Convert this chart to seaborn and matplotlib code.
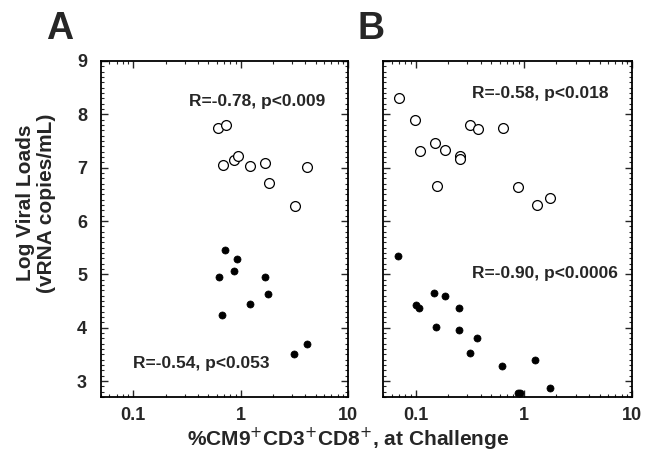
"""
Viral load vs %CM9+ CD8+ T cells at challenge - two panel scatter
"""

import numpy as np
import pandas as pd
import matplotlib
matplotlib.use('Agg')
import matplotlib.pyplot as plt
import seaborn as sns
from matplotlib.ticker import MultipleLocator, LogLocator, NullFormatter, FixedLocator, FixedFormatter

sns.set_theme(style='ticks')
plt.rcParams['font.family'] = ['Liberation Sans', 'DejaVu Sans']

# panel A
a_open_x = [0.62, 0.735, 0.68, 0.87, 0.94, 1.23, 1.70, 1.83, 3.2, 4.17]
a_open_y = [7.75, 7.80, 7.05, 7.14, 7.21, 7.03, 7.08, 6.71, 6.28, 7.02]
a_closed_x = [0.71, 0.93, 0.63, 0.87, 1.69, 1.80, 1.22, 0.67, 3.15, 4.14]
a_closed_y = [5.45, 5.29, 4.96, 5.07, 4.96, 4.64, 4.45, 4.23, 3.50, 3.69]

# panel B
b_open_x = [0.070, 0.099, 0.109, 0.150, 0.188, 0.258, 0.258, 0.318, 0.375, 0.645, 0.157, 0.89, 1.31, 1.73]
b_open_y = [8.30, 7.90, 7.32, 7.47, 7.33, 7.22, 7.17, 7.80, 7.72, 7.75, 6.66, 6.63, 6.30, 6.44]
b_closed_x = [0.069, 0.10, 0.108, 0.147, 0.185, 0.252, 0.155, 0.252, 0.367, 0.318, 0.632, 1.28, 1.73, 0.875, 0.92]
b_closed_y = [5.34, 4.43, 4.37, 4.65, 4.59, 4.37, 4.02, 3.95, 3.81, 3.53, 3.28, 3.40, 2.88, 2.78, 2.77]

a_open_label = 'R=-0.78, p<0.009'
a_closed_label = 'R=-0.54, p<0.053'
b_open_label = 'R=-0.58, p<0.018'
b_closed_label = 'R=-0.90, p<0.0006'

x_ticks = [0.1, 1, 10]
x_tick_labels = ['0.1', '1', '10']
y_ticks = [3, 4, 5, 6, 7, 8, 9]

fig = plt.figure(figsize=(6.47, 4.65), dpi=100)
ax_a = fig.add_axes([0.156, 0.146, 0.382, 0.723])
ax_b = fig.add_axes([0.592, 0.146, 0.385, 0.723])


def draw_panel(ax, ox, oy, cx, cy):
    d_open = pd.DataFrame({'x': ox, 'y': oy})
    d_closed = pd.DataFrame({'x': cx, 'y': cy})
    sns.scatterplot(data=d_open, x='x', y='y', ax=ax, marker='o', s=50,
                    facecolor='white', edgecolor='black', linewidth=0.9, zorder=3)
    sns.scatterplot(data=d_closed, x='x', y='y', ax=ax, marker='o', s=26,
                    color='black', edgecolor='black', linewidth=0.5, zorder=3)
    ax.set_xscale('log')
    ax.set_xlim(0.05, 10)
    ax.set_ylim(2.7, 9)
    ax.set_xlabel('')
    ax.set_ylabel('')
    ax.xaxis.set_major_locator(FixedLocator(x_ticks))
    ax.xaxis.set_major_formatter(FixedFormatter(x_tick_labels))
    ax.xaxis.set_minor_locator(LogLocator(base=10, subs=np.arange(2, 10), numticks=10))
    ax.xaxis.set_minor_formatter(NullFormatter())
    ax.yaxis.set_major_locator(FixedLocator(y_ticks))
    ax.yaxis.set_minor_locator(MultipleLocator(0.1))
    ax.tick_params(which='major', direction='in', length=5, width=1.0,
                   top=True, right=True, labelsize=13)
    ax.tick_params(axis='y', which='major', pad=10)
    ax.tick_params(axis='x', which='major', pad=7)
    ax.tick_params(which='minor', direction='in', length=2.5, width=0.8,
                   top=True, right=True)
    for lbl in ax.get_xticklabels() + ax.get_yticklabels():
        lbl.set_fontweight('bold')
    for sp in ax.spines.values():
        sp.set_linewidth(1.3)
        sp.set_color('black')
        sp.set_visible(True)


draw_panel(ax_a, a_open_x, a_open_y, a_closed_x, a_closed_y)
draw_panel(ax_b, b_open_x, b_open_y, b_closed_x, b_closed_y)
ax_b.set_yticklabels([])

ax_a.text(0.907, 0.879, a_open_label, transform=ax_a.transAxes, ha='right', va='center',
          fontsize=12.5, fontweight='bold')
ax_a.text(0.13, 0.10, a_closed_label, transform=ax_a.transAxes, ha='left', va='center',
          fontsize=12.5, fontweight='bold')
ax_b.text(0.904, 0.903, b_open_label, transform=ax_b.transAxes, ha='right', va='center',
          fontsize=12.5, fontweight='bold')
ax_b.text(0.944, 0.368, b_closed_label, transform=ax_b.transAxes, ha='right', va='center',
          fontsize=12.5, fontweight='bold')

fig.text(0.056, 0.563, 'Log Viral Loads\n(vRNA copies/mL)', fontsize=15, fontweight='bold',
         rotation=90, ha='center', va='center', linespacing=1.1)

fig.text(0.092, 0.938, 'A', fontsize=27, fontweight='bold', ha='center', va='center')
fig.text(0.573, 0.938, 'B', fontsize=27, fontweight='bold', ha='center', va='center')
fig.text(0.538, 0.056, r'%CM9$^{+}$CD3$^{+}$CD8$^{+}$, at Challenge',
         fontsize=15, fontweight='bold', ha='center', va='center')

fig.savefig('out.png', dpi=100)
